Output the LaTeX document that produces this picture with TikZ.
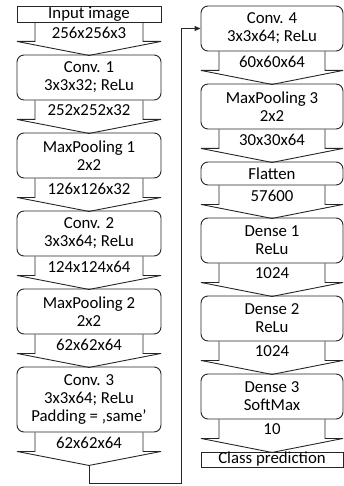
\documentclass[tikz,border=0pt]{standalone}
\usepackage{fontspec}
\setmainfont{Carlito}
\usetikzlibrary{arrows.meta,calc}
\newcommand\flowarr[5]{%
  \draw[shape line] ($(#1.south)+(-#3,0)$) -- ++(0,19) -- ++(#3-#2,0)
    -- ($(#1.south)+(0,33)$) -- ($(#1.south)+(#2,19)$) -- ++(#3-#2,0)
    -- ($(#1.south)+(#3,0)$);
  \node[txt] (#5) at ($(#1.south)+(0,10)$) {#4};
  \coordinate (#5tip) at ($(#1.south)+(0,33)$);
}
\begin{document}
\begin{tikzpicture}[x=1pt,y=-1pt,
  txt/.style={font=\fontsize{16.8}{18}\selectfont, inner sep=0pt, align=center},
  shape line/.style={draw=black!85, line width=0.9pt},
  lbox/.style={txt, shape line, rounded corners=7pt, minimum width=144pt},
  rbx/.style={txt, shape line, rounded corners=7pt, minimum width=142pt},
  pbox/.style={txt, shape line},
  hone/.style={minimum height=23pt},
  htwo/.style={minimum height=45pt},
  hthree/.style={minimum height=65pt},
  conn/.style={draw=black!85, line width=0.9pt, -{Triangle[length=6pt,width=5pt]}}]
\useasboundingbox (0,0) rectangle (344,486);
% left column
\node[pbox, minimum width=144pt, minimum height=16pt] (input) at (89,14) {Input image};
\node[lbox, htwo] (conv1) at (89,77.5) {Conv. 1\\3x3x32; ReLu};
\node[lbox, htwo] (mp1) at (89,155.5) {MaxPooling 1\\2x2};
\node[lbox, htwo] (conv2) at (89,233.5) {Conv. 2\\3x3x64; ReLu};
\node[lbox, htwo] (mp2) at (89,311.5) {MaxPooling 2\\2x2};
\node[lbox, hthree] (conv3) at (89,399.5) {Conv. 3\\3x3x64; ReLu\\Padding = ‚same’};
\flowarr{input}{72}{54}{256x256x3}{a1}
\flowarr{conv1}{72}{54}{252x252x32}{a2}
\flowarr{mp1}{72}{54}{126x126x32}{a3}
\flowarr{conv2}{72}{54}{124x124x64}{a4}
\flowarr{mp2}{72}{54}{62x62x64}{a5}
\flowarr{conv3}{72}{54}{62x62x64}{a6}
% right column
\node[rbx, htwo] (conv4) at (272,28.5) {Conv. 4\\3x3x64; ReLu};
\node[rbx, htwo] (mp3) at (272,106.5) {MaxPooling 3\\2x2};
\node[rbx, hone] (flat) at (272,173.5) {Flatten};
\node[rbx, htwo] (d1) at (272,240.5) {Dense 1\\ReLu};
\node[rbx, htwo] (d2) at (272,318.5) {Dense 2\\ReLu};
\node[rbx, htwo] (d3) at (272,396.5) {Dense 3\\SoftMax};
\node[pbox, minimum width=142pt, minimum height=15pt] (cls) at (272,459.5) {Class prediction};
\flowarr{conv4}{71}{53}{60x60x64}{b1}
\flowarr{mp3}{71}{53}{30x30x64}{b2}
\flowarr{flat}{71}{53}{57600}{b3}
\flowarr{d1}{71}{53}{1024}{b4}
\flowarr{d2}{71}{53}{1024}{b5}
\flowarr{d3}{71}{53}{10}{b6}
% connector
\coordinate (turn) at (181,483);
\draw[conn] (a6tip) |- (turn) |- (conv4.west);
\end{tikzpicture}
\end{document}
